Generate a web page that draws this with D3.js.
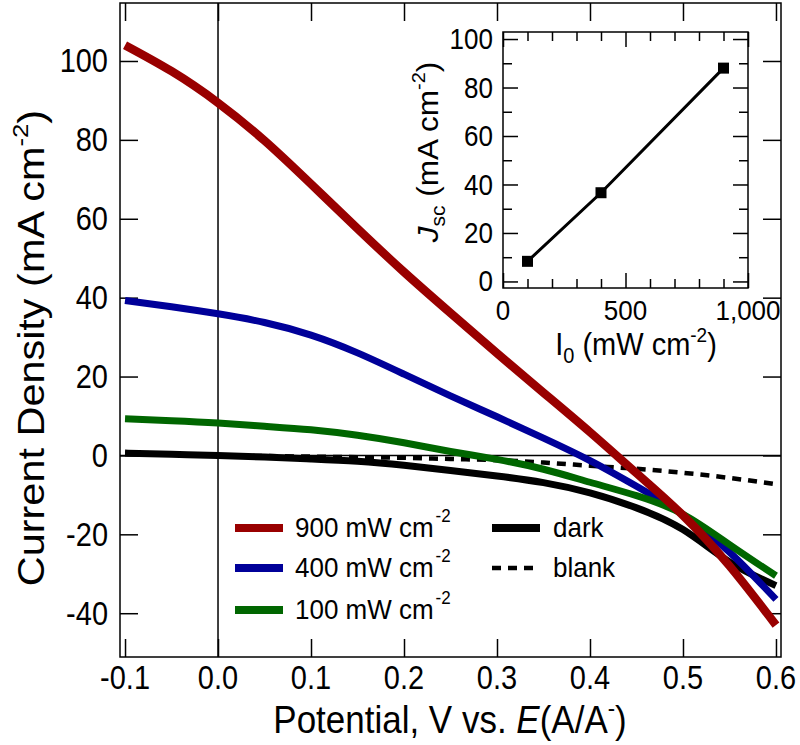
<!DOCTYPE html>
<html><head><meta charset="utf-8">
<script src="https://cdn.jsdelivr.net/npm/d3@7"></script>
<style>
body{margin:0;background:#fff}
text{font-family:"Liberation Sans",Arial,Helvetica,sans-serif;fill:#000}
</style>
</head><body>
<svg id="chart" width="800" height="745"></svg>
<script>
// ---------------- data ----------------
const potential = [-0.1,-0.05,0,0.05,0.1,0.15,0.2,0.25,0.3,0.35,0.4,0.45,0.5,0.55,0.6];
const j900  = [104,97.4,89.4,79.8,68.8,57.5,46.5,36.1,25.9,15.9,5.9,-4.5,-15.2,-28,-43];
const j400  = [39.3,37.7,35.9,33.7,30.5,26.0,20.6,15.1,9.8,4.4,-1.3,-7.8,-15,-24.5,-36.5];
const j100  = [9.3,8.8,8.2,7.4,6.5,5.1,3.2,1.0,-1.0,-3.5,-6.8,-10.2,-14.9,-22.6,-30.5];
const jDark = [0.6,0.3,0,-0.4,-0.9,-1.5,-2.5,-3.8,-5.2,-6.9,-9.5,-13.3,-18.8,-27,-33];
const jBlank= [0.5,0.25,0,-0.15,-0.3,-0.45,-0.6,-0.9,-1.2,-1.8,-2.6,-3.4,-4.4,-5.7,-7.3];
const xTicks = [-0.1,0,0.1,0.2,0.3,0.4,0.5,0.6];
const yTicks = [-40,-20,0,20,40,60,80,100];
const lightLabels = ["900 mW cm","400 mW cm","100 mW cm"];
const otherLabels = ["dark","blank"];

const insetIntensity = [100,400,900];
const insetJsc = [8.3,36.6,88];
const insetXMajor = [0,500,1000];
const insetXMinor = [100,200,300,400,600,700,800,900];
const insetXLabels = ["0","500","1,000"];
const insetYMajor = [0,20,40,60,80,100];
const insetYMinor = [10,30,50,70,90];

// ---------------- styles ----------------
const colors = {j900:"#990000", j400:"#000099", j100:"#006600", dark:"#000", blank:"#000"};
const STRETCH = 1.12;

const svg = d3.select("#chart");

// main scales
const x = d3.scaleLinear().domain([-0.1054,0.6054]).range([120,781]);
const y = d3.scaleLinear().domain([-51.1,114.7]).range([657,3]);

svg.append("clipPath").attr("id","clip").append("rect")
  .attr("x",120).attr("y",3).attr("width",661).attr("height",654);

// zero lines
svg.append("line").attr("x1",x(0)).attr("x2",x(0)).attr("y1",3).attr("y2",657)
  .attr("stroke","#000").attr("stroke-width",1.5);
svg.append("line").attr("x1",120).attr("x2",781).attr("y1",y(0)).attr("y2",y(0))
  .attr("stroke","#000").attr("stroke-width",1.5);

// ticks (all sides, inward)
function styleAxis(g){ g.select(".domain").remove(); g.selectAll("line").attr("stroke","#000").attr("stroke-width",1.5); g.selectAll("text").remove(); }
svg.append("g").attr("transform","translate(120,0)").call(d3.axisLeft(y).tickValues(yTicks).tickSize(-18).tickFormat("")).call(styleAxis);
svg.append("g").attr("transform","translate(781,0)").call(d3.axisRight(y).tickValues(yTicks).tickSize(-18).tickFormat("")).call(styleAxis);
svg.append("g").attr("transform","translate(0,657)").call(d3.axisBottom(x).tickValues(xTicks).tickSize(-18).tickFormat("")).call(styleAxis);
svg.append("g").attr("transform","translate(0,3)").call(d3.axisTop(x).tickValues(xTicks).tickSize(-18).tickFormat("")).call(styleAxis);

// frame
svg.append("rect").attr("x",120).attr("y",3).attr("width",661).attr("height",654)
  .attr("fill","none").attr("stroke","#000").attr("stroke-width",1.5);

// tick labels
svg.append("g").selectAll("text").data(yTicks).join("text")
  .attr("transform",d=>`translate(108,${y(d)}) scale(1,${STRETCH})`)
  .attr("text-anchor","end").attr("dy","0.35em").attr("font-size",29)
  .text(d=>String(d));
svg.append("g").selectAll("text").data(xTicks).join("text")
  .attr("transform",d=>`translate(${x(d)},689) scale(1,${STRETCH})`)
  .attr("text-anchor","middle").attr("font-size",29)
  .text(d=>d.toFixed(1));

// axis titles
const xl = svg.append("text").attr("transform",`translate(450,733) scale(1,${STRETCH})`)
  .attr("text-anchor","middle").attr("font-size",35);
xl.append("tspan").text("Potential, V vs. ");
xl.append("tspan").attr("font-style","italic").text("E");
xl.append("tspan").text("(A/A");
xl.append("tspan").attr("font-size",22).attr("dy",-15).text("-");
xl.append("tspan").attr("dy",15).text(")");

const yl = svg.append("text").attr("transform",`translate(44,348) rotate(-90) scale(${STRETCH},1)`)
  .attr("text-anchor","middle").attr("font-size",37);
yl.append("tspan").text("Current Density (mA cm");
yl.append("tspan").attr("font-size",23).attr("dy",-16).text("-2");
yl.append("tspan").attr("dy",16).text(")");

// curves
const line = d3.line().x(d=>x(d.v)).y(d=>y(d.j)).curve(d3.curveNatural);
const series = [
  {vals:jBlank, color:colors.blank, w:4.5, dash:"9,7"},
  {vals:jDark,  color:colors.dark,  w:7},
  {vals:j400,   color:colors.j400,  w:7},
  {vals:j100,   color:colors.j100,  w:7},
  {vals:j900,   color:colors.j900,  w:8.5}
];
const cg = svg.append("g").attr("clip-path","url(#clip)");
series.forEach(s=>{
  cg.append("path").datum(potential.map((v,i)=>({v, j:s.vals[i]})))
    .attr("d",line).attr("fill","none").attr("stroke",s.color)
    .attr("stroke-width",s.w).attr("stroke-dasharray",s.dash||null);
});

// legend
const lightColors = [colors.j900, colors.j400, colors.j100];
const legRows = [528,568,610];
lightLabels.forEach((lab,i)=>{
  svg.append("line").attr("x1",235).attr("x2",283).attr("y1",legRows[i]).attr("y2",legRows[i])
    .attr("stroke",lightColors[i]).attr("stroke-width",8);
  const t = svg.append("text").attr("transform",`translate(295,${legRows[i]+9}) scale(1,1.05)`).attr("font-size",26);
  t.append("tspan").text(lab);
  t.append("tspan").attr("font-size",17).attr("dy",-14).attr("dx",2).text("-2");
});
otherLabels.forEach((lab,i)=>{
  svg.append("line").attr("x1",492).attr("x2",540).attr("y1",legRows[i]).attr("y2",legRows[i])
    .attr("stroke","#000").attr("stroke-width",i===0?8:4.5).attr("stroke-dasharray",i===0?null:"9,7");
  svg.append("text").attr("transform",`translate(553,${legRows[i]+9}) scale(1,1.05)`).attr("font-size",26).text(lab);
});

// ---------------- inset ----------------
const xi = d3.scaleLinear().domain([0,1000]).range([503,748]);
const yi = d3.scaleLinear().domain([-2.7,102.9]).range([288,32]);
svg.append("rect").attr("x",503).attr("y",32).attr("width",245).attr("height",256).attr("fill","#fff");
function ax(gen, tr){ svg.append("g").attr("transform",tr).call(gen).call(styleAxis); }
ax(d3.axisLeft(yi).tickValues(insetYMajor).tickSize(-15).tickFormat(""),"translate(503,0)");
ax(d3.axisLeft(yi).tickValues(insetYMinor).tickSize(-9).tickFormat(""),"translate(503,0)");
ax(d3.axisRight(yi).tickValues(insetYMajor).tickSize(-15).tickFormat(""),"translate(748,0)");
ax(d3.axisRight(yi).tickValues(insetYMinor).tickSize(-9).tickFormat(""),"translate(748,0)");
ax(d3.axisBottom(xi).tickValues(insetXMajor).tickSize(-15).tickFormat(""),"translate(0,288)");
ax(d3.axisBottom(xi).tickValues(insetXMinor).tickSize(-9).tickFormat(""),"translate(0,288)");
ax(d3.axisTop(xi).tickValues(insetXMajor).tickSize(-15).tickFormat(""),"translate(0,32)");
ax(d3.axisTop(xi).tickValues(insetXMinor).tickSize(-9).tickFormat(""),"translate(0,32)");
svg.append("rect").attr("x",503).attr("y",32).attr("width",245).attr("height",256)
  .attr("fill","none").attr("stroke","#000").attr("stroke-width",1.5);

svg.append("g").selectAll("text").data(insetYMajor).join("text")
  .attr("transform",d=>`translate(493,${yi(d)}) scale(1,1.1)`)
  .attr("text-anchor","end").attr("dy","0.35em").attr("font-size",26).text(d=>String(d));
svg.append("g").selectAll("text").data(insetXMajor).join("text")
  .attr("transform",d=>`translate(${xi(d)},320) scale(1,1.08)`)
  .attr("text-anchor","middle").attr("font-size",26).text((d,i)=>insetXLabels[i]);

const ixl = svg.append("text").attr("transform","translate(636,355) scale(1,1.08)")
  .attr("text-anchor","middle").attr("font-size",29);
ixl.append("tspan").text("I");
ixl.append("tspan").attr("font-size",20).attr("dy",7).text("0");
ixl.append("tspan").attr("dy",-7).text(" (mW cm");
ixl.append("tspan").attr("font-size",19).attr("dy",-12).text("-2");
ixl.append("tspan").attr("dy",12).text(")");

const iyl = svg.append("text").attr("transform","translate(438,152) rotate(-90) scale(1.05,1)")
  .attr("text-anchor","middle").attr("font-size",30);
iyl.append("tspan").attr("font-style","italic").text("J");
iyl.append("tspan").attr("font-size",20).attr("dy",7).text("sc");
iyl.append("tspan").attr("dy",-7).text(" (mA cm");
iyl.append("tspan").attr("font-size",19).attr("dy",-13).text("-2");
iyl.append("tspan").attr("dy",13).text(")");

svg.append("path").datum(insetIntensity.map((v,i)=>({v, j:insetJsc[i]})))
  .attr("d",d3.line().x(d=>xi(d.v)).y(d=>yi(d.j)))
  .attr("fill","none").attr("stroke","#000").attr("stroke-width",3);
svg.append("g").selectAll("rect").data(insetIntensity).join("rect")
  .attr("x",d=>xi(d)-5.5).attr("y",(d,i)=>yi(insetJsc[i])-5.5)
  .attr("width",11).attr("height",11).attr("fill","#000");
</script>
</body></html>
